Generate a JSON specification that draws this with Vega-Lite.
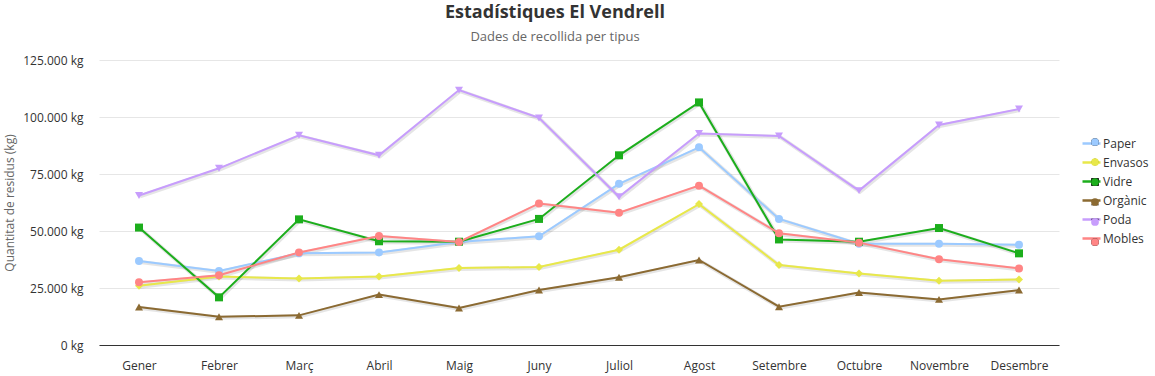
{
  "$schema": "https://vega.github.io/schema/vega-lite/v6.json",
  "width": 960,
  "height": 285,
  "autosize": {"type": "none"},
  "padding": {"left": 99, "top": 60, "right": 96, "bottom": 31},
  "background": "white",
  "config": {
    "locale": {"number": {"decimal": ",", "thousands": ".", "grouping": [3], "currency": ["", " €"]}},
    "font": "Open Sans",
    "view": {"stroke": null}
  },
  "title": {
    "text": "Estadístiques El Vendrell",
    "subtitle": "Dades de recollida per tipus",
    "anchor": "middle",
    "frame": "group",
    "dx": -24,
    "fontSize": 18,
    "fontWeight": "bold",
    "color": "#333333",
    "subtitleFontSize": 13,
    "subtitleColor": "#666666",
    "subtitlePadding": 9,
    "offset": 10
  },
  "data": {
    "values": [
      {"mes": "Gener", "tipus": "Paper", "kg": 36800},
      {"mes": "Febrer", "tipus": "Paper", "kg": 32500},
      {"mes": "Març", "tipus": "Paper", "kg": 40200},
      {"mes": "Abril", "tipus": "Paper", "kg": 40600},
      {"mes": "Maig", "tipus": "Paper", "kg": 45200},
      {"mes": "Juny", "tipus": "Paper", "kg": 47700},
      {"mes": "Juliol", "tipus": "Paper", "kg": 70700},
      {"mes": "Agost", "tipus": "Paper", "kg": 86700},
      {"mes": "Setembre", "tipus": "Paper", "kg": 55300},
      {"mes": "Octubre", "tipus": "Paper", "kg": 44400},
      {"mes": "Novembre", "tipus": "Paper", "kg": 44400},
      {"mes": "Desembre", "tipus": "Paper", "kg": 44000},
      {"mes": "Gener", "tipus": "Envasos", "kg": 26000},
      {"mes": "Febrer", "tipus": "Envasos", "kg": 30000},
      {"mes": "Març", "tipus": "Envasos", "kg": 29200},
      {"mes": "Abril", "tipus": "Envasos", "kg": 30000},
      {"mes": "Maig", "tipus": "Envasos", "kg": 33800},
      {"mes": "Juny", "tipus": "Envasos", "kg": 34200},
      {"mes": "Juliol", "tipus": "Envasos", "kg": 41800},
      {"mes": "Agost", "tipus": "Envasos", "kg": 61800},
      {"mes": "Setembre", "tipus": "Envasos", "kg": 35100},
      {"mes": "Octubre", "tipus": "Envasos", "kg": 31400},
      {"mes": "Novembre", "tipus": "Envasos", "kg": 28200},
      {"mes": "Desembre", "tipus": "Envasos", "kg": 28700},
      {"mes": "Gener", "tipus": "Vidre", "kg": 51500},
      {"mes": "Febrer", "tipus": "Vidre", "kg": 20900},
      {"mes": "Març", "tipus": "Vidre", "kg": 55100},
      {"mes": "Abril", "tipus": "Vidre", "kg": 45500},
      {"mes": "Maig", "tipus": "Vidre", "kg": 45300},
      {"mes": "Juny", "tipus": "Vidre", "kg": 55300},
      {"mes": "Juliol", "tipus": "Vidre", "kg": 83200},
      {"mes": "Agost", "tipus": "Vidre", "kg": 106400},
      {"mes": "Setembre", "tipus": "Vidre", "kg": 46300},
      {"mes": "Octubre", "tipus": "Vidre", "kg": 45300},
      {"mes": "Novembre", "tipus": "Vidre", "kg": 51300},
      {"mes": "Desembre", "tipus": "Vidre", "kg": 40200},
      {"mes": "Gener", "tipus": "Orgànic", "kg": 16700},
      {"mes": "Febrer", "tipus": "Orgànic", "kg": 12400},
      {"mes": "Març", "tipus": "Orgànic", "kg": 13000},
      {"mes": "Abril", "tipus": "Orgànic", "kg": 22100},
      {"mes": "Maig", "tipus": "Orgànic", "kg": 16200},
      {"mes": "Juny", "tipus": "Orgànic", "kg": 24100},
      {"mes": "Juliol", "tipus": "Orgànic", "kg": 29700},
      {"mes": "Agost", "tipus": "Orgànic", "kg": 37300},
      {"mes": "Setembre", "tipus": "Orgànic", "kg": 16800},
      {"mes": "Octubre", "tipus": "Orgànic", "kg": 23000},
      {"mes": "Novembre", "tipus": "Orgànic", "kg": 20000},
      {"mes": "Desembre", "tipus": "Orgànic", "kg": 24100},
      {"mes": "Gener", "tipus": "Poda", "kg": 65600},
      {"mes": "Febrer", "tipus": "Poda", "kg": 77500},
      {"mes": "Març", "tipus": "Poda", "kg": 92000},
      {"mes": "Abril", "tipus": "Poda", "kg": 83200},
      {"mes": "Maig", "tipus": "Poda", "kg": 111800},
      {"mes": "Juny", "tipus": "Poda", "kg": 99600},
      {"mes": "Juliol", "tipus": "Poda", "kg": 65000},
      {"mes": "Agost", "tipus": "Poda", "kg": 92800},
      {"mes": "Setembre", "tipus": "Poda", "kg": 91700},
      {"mes": "Octubre", "tipus": "Poda", "kg": 67700},
      {"mes": "Novembre", "tipus": "Poda", "kg": 96500},
      {"mes": "Desembre", "tipus": "Poda", "kg": 103500},
      {"mes": "Gener", "tipus": "Mobles", "kg": 27500},
      {"mes": "Febrer", "tipus": "Mobles", "kg": 30600},
      {"mes": "Març", "tipus": "Mobles", "kg": 40600},
      {"mes": "Abril", "tipus": "Mobles", "kg": 47800},
      {"mes": "Maig", "tipus": "Mobles", "kg": 45200},
      {"mes": "Juny", "tipus": "Mobles", "kg": 62100},
      {"mes": "Juliol", "tipus": "Mobles", "kg": 58000},
      {"mes": "Agost", "tipus": "Mobles", "kg": 69900},
      {"mes": "Setembre", "tipus": "Mobles", "kg": 49000},
      {"mes": "Octubre", "tipus": "Mobles", "kg": 44900},
      {"mes": "Novembre", "tipus": "Mobles", "kg": 37600},
      {"mes": "Desembre", "tipus": "Mobles", "kg": 33600}
    ]
  },
  "encoding": {
    "x": {
      "field": "mes",
      "type": "nominal",
      "sort": ["Gener", "Febrer", "Març", "Abril", "Maig", "Juny", "Juliol", "Agost", "Setembre", "Octubre", "Novembre", "Desembre"],
      "scale": {"type": "point", "padding": 0.5},
      "axis": {
        "title": null,
        "labelAngle": 0,
        "ticks": false,
        "grid": false,
        "domainColor": "#333333",
        "domainWidth": 1,
        "labelColor": "#333333",
        "labelFontSize": 12,
        "labelPadding": 15
      }
    },
    "y": {
      "field": "kg",
      "type": "quantitative",
      "scale": {"domain": [0, 125000], "nice": false},
      "axis": {
        "title": "Quantitat de residus (kg)",
        "values": [0, 25000, 50000, 75000, 100000, 125000],
        "format": ",d",
        "labelExpr": "datum.label + ' kg'",
        "domain": false,
        "ticks": false,
        "gridColor": "#e6e6e6",
        "labelPadding": 16,
        "labelFontSize": 12,
        "labelColor": "#333333",
        "titleColor": "#666666",
        "titleFontSize": 12,
        "titleFontWeight": "normal",
        "titleBaseline": "alphabetic",
        "titleX": -86,
        "titleY": 142.5
      }
    }
  },
  "layer": [
    {
      "mark": {"type": "line", "stroke": "#000000", "opacity": 0.1, "strokeWidth": 4, "xOffset": 1, "yOffset": 1},
      "encoding": {"detail": {"field": "tipus", "type": "nominal"}}
    },
    {
      "mark": {"type": "line", "strokeWidth": 2},
      "encoding": {
        "color": {
          "field": "tipus",
          "type": "nominal",
          "scale": {
            "domain": ["Paper", "Envasos", "Vidre", "Orgànic", "Poda", "Mobles"],
            "range": ["#9ccaff", "#e8e84a", "#1cae1c", "#8b6a32", "#c79dfc", "#ff8585"]
          },
          "legend": {
            "orient": "none",
            "legendX": 982,
            "legendY": 73,
            "title": null,
            "padding": 0,
            "symbolType": "stroke",
            "symbolSize": 324,
            "symbolStrokeWidth": 2.5,
            "rowPadding": 2,
            "labelFontSize": 12,
            "labelColor": "#333333",
            "labelOffset": 1
          }
        }
      }
    },
    {
      "mark": {"type": "point", "filled": true, "opacity": 1, "size": 64},
      "encoding": {
        "fill": {
          "field": "tipus",
          "type": "nominal",
          "sort": ["Paper", "Envasos", "Vidre", "Orgànic", "Poda", "Mobles"],
          "scale": {"range": ["#9ccaff", "#e8e84a", "#1cae1c", "#8b6a32", "#c79dfc", "#ff8585"]},
          "legend": {
            "orient": "none",
            "legendX": 987,
            "legendY": 73,
            "title": null,
            "padding": 0,
            "symbolSize": 60,
            "symbolStrokeWidth": 0,
            "rowPadding": 2,
            "labelFontSize": 18,
            "labelExpr": "' '",
            "labelOpacity": 0,
            "symbolOpacity": 1
          }
        },
        "shape": {
          "field": "tipus",
          "type": "nominal",
          "sort": ["Paper", "Envasos", "Vidre", "Orgànic", "Poda", "Mobles"],
          "scale": {"range": ["circle", "diamond", "square", "triangle-up", "triangle-down", "circle"]},
          "legend": {
            "orient": "none",
            "legendX": 987,
            "legendY": 73,
            "title": null,
            "padding": 0,
            "symbolSize": 60,
            "symbolStrokeWidth": 0,
            "rowPadding": 2,
            "labelFontSize": 18,
            "labelExpr": "' '",
            "labelOpacity": 0,
            "symbolOpacity": 1
          }
        }
      }
    }
  ]
}
